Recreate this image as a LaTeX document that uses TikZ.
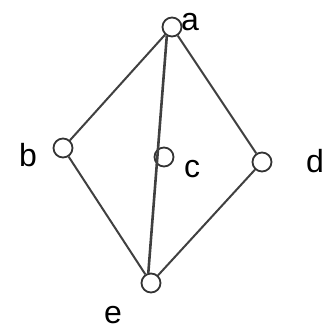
\documentclass[tikz,border=0pt]{standalone}
\usepackage{fontspec}
\setmainfont{Liberation Sans}

\begin{document}
\begin{tikzpicture}[
    x=1pt, y=-1pt,
    vertex/.style={draw, circle, minimum size=19pt, inner sep=0pt, line width=1.8pt, black!80, fill=white},
    letter/.style={font=\fontsize{32}{36}\selectfont, inner sep=0pt, anchor=base},
    edge/.style={line width=2pt, black!75},
]
    \useasboundingbox (0,0) rectangle (326,332);

    \node[vertex] (a) at (172,27) {};
    \node[vertex] (b) at (63,148) {};
    \node[vertex, fill=none] (c) at (164,157) {};
    \node[vertex] (d) at (262,162) {};
    \node[vertex] (e) at (151,283) {};

    \node[letter] (la) at (190,30) {a};
    \node[letter] (lb) at (28,166) {b};
    \node[letter] (lc) at (192,177) {c};
    \node[letter] (ld) at (315,172) {d};
    \node[letter] (le) at (113,323) {e};

    \foreach \v in {b, d} {
        \draw[edge] (a) -- (\v);
        \draw[edge] (\v) -- (e);
    }
    \draw[edge, line width=2.6pt] (a.240) -- (e.105);

\end{tikzpicture}
\end{document}
